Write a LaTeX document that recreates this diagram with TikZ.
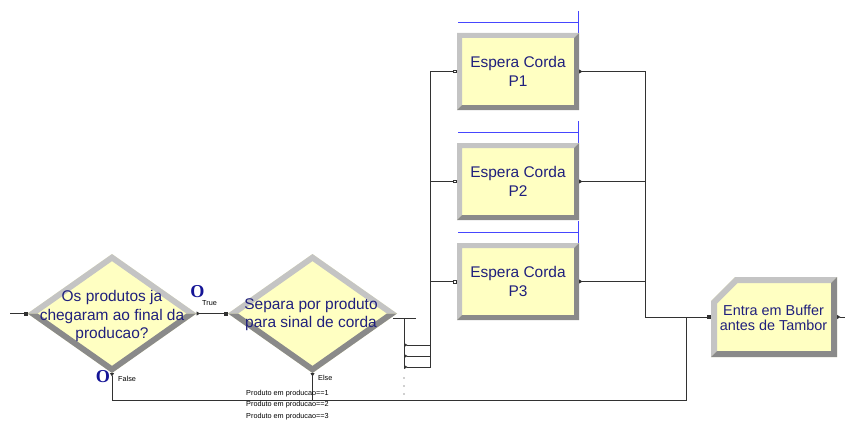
\documentclass[tikz,border=0pt]{standalone}
\usepackage{fontspec}
\setmainfont{Liberation Sans}
\newfontfamily\oserif{Liberation Serif}
\usetikzlibrary{calc, arrows.meta, shapes.geometric}

\definecolor{modfill}{RGB}{255,255,194}
\definecolor{bevlight}{RGB}{196,196,196}
\definecolor{bevdark}{RGB}{138,138,138}
\definecolor{modtext}{RGB}{32,32,125}
\definecolor{qblue}{RGB}{70,70,255}
\definecolor{oblue}{RGB}{20,20,150}
\definecolor{wirec}{RGB}{50,50,50}

\tikzset{
  dec/.style={diamond, fill=modfill, minimum width=5.07cm, minimum height=3.57cm, inner sep=0pt, outer sep=0pt},
  hold/.style={rectangle, fill=modfill, minimum width=3.66cm, minimum height=2.31cm, inner sep=0pt, outer sep=0pt},
  modlabel/.style={text=modtext, align=center, inner sep=0pt, font=\fontsize{13.2}{15.8}\selectfont},
  tiny/.style={font=\fontsize{6.2}{7}\selectfont, inner sep=0pt},
  bigO/.style={text=oblue, inner sep=0pt, font=\oserif\bfseries\fontsize{15.5}{15.5}\selectfont},
  wire/.style={draw=wirec, line width=0.65pt},
  link/.style={wire, {Triangle[reversed,length=3pt,width=3.4pt]}-{Square[length=3pt,width=3pt]}},
  linkin/.style={wire, {Triangle[reversed,length=3pt,width=3.4pt]}-{Square[length=3pt,width=3pt,fill=white]}},
  queue/.style={draw=qblue, line width=0.6pt}
}

\begin{document}
\begin{tikzpicture}[x=0.03cm, y=-0.03cm]
  \useasboundingbox (0,0) rectangle (845,421);

  % decide modules: empty diamonds, bevel, then the text on top (text runs past the edges)
  \node[dec] (d1) at (112,313.5) {};
  \node[dec] (d2) at (312.5,313.5) {};
  \foreach \d in {d1,d2}{
    \fill[bevlight] (\d.west) -- (\d.north) -- (\d.east) -- ($(\d.center)!0.88!(\d.east)$) -- ($(\d.center)!0.88!(\d.north)$) -- ($(\d.center)!0.88!(\d.west)$) -- cycle;
    \fill[bevdark] (\d.west) -- (\d.south) -- (\d.east) -- ($(\d.center)!0.88!(\d.east)$) -- ($(\d.center)!0.88!(\d.south)$) -- ($(\d.center)!0.88!(\d.west)$) -- cycle;
  }
  \node[modlabel] (d1t) at (112,316) {Os produtos ja\\chegaram ao final da\\producao?};
  \node[modlabel] (d2t) at (311,314.5) {Separa por produto\\para sinal de corda};

  % hold modules
  \node[hold, modlabel] (p1) at (518,71.5) {Espera Corda\\P1};
  \node[hold, modlabel] (p2) at (518,181.5) {Espera Corda\\P2};
  \node[hold, modlabel] (p3) at (518,281.5) {Espera Corda\\P3};
  \foreach \p in {p1,p2,p3}{
    \fill[bevlight] (\p.south west) -- (\p.north west) -- (\p.north east) -- ++(-5,5) -| ($(\p.south west)+(5,-5)$) -- cycle;
    \fill[bevdark] (\p.south west) -- (\p.south east) -- (\p.north east) -- ++(-5,5) |- ($(\p.south west)+(5,-5)$) -- cycle;
    \draw[queue] ($(\p.north west)+(1,-11)$) -- ($(\p.north east)+(-1,-11)$);
    \draw[queue] ($(\p.north east)+(-1,-22)$) -- ($(\p.north east)+(-1,0)$);
  }

  % buffer module, top left corner cut off
  \node[minimum width=3.78cm, minimum height=2.4cm, inner sep=0pt, outer sep=0pt] (buf) at (774,317) {};
  \fill[modfill] ($(buf.north west)+(24,0)$) -- (buf.north east) -- (buf.south east) -- (buf.south west) -- ($(buf.north west)+(0,24)$) -- cycle;
  \fill[bevlight] ($(buf.north west)+(0,24)$) -- ($(buf.north west)+(24,0)$) -- (buf.north east) -- ++(-6,6) -- ($(buf.north west)+(26.5,6)$) -- ($(buf.north west)+(6,26.5)$) -- ($(buf.south west)+(6,-6)$) -- (buf.south west) -- cycle;
  \fill[bevdark] (buf.north east) -- (buf.south east) -- (buf.south west) -- ++(6,-6) -- ($(buf.south east)+(-6,-6)$) -- ($(buf.north east)+(-6,6)$) -- cycle;
  \node[modlabel, font=\fontsize{12.3}{12.8}\selectfont] (buft) at (773.5,317.5) {Entra em Buffer\\antes de Tambor};

  % connectors
  \coordinate (in) at (10,313.5);
  \coordinate (out) at (845,317);
  \coordinate (fl) at (686,400);
  \coordinate (trunk) at (430,0);
  \coordinate (mg) at (645,0);
  \coordinate (xb) at (404,318);
  \coordinate (e1) at (404,345);
  \coordinate (e2) at (404,356);
  \coordinate (e3) at (404,367);

  \draw[wire, -{Square[length=3pt,width=3pt]}] (in) -- (d1.west);
  \draw[link] (d1.east) -- (d2.west);
  \draw[link] (d1.south) |- (fl) |- (buf.west);
  \draw[wire, {Triangle[reversed,length=3pt,width=3.4pt]}-] (d2.south) -- (d2.south |- fl);
  \draw[wire] ($(xb)+(-11,0)$) -- ($(xb)+(12,0)$);
  \draw[wire] (xb) -- (e3);
  \foreach \i in {1,2,3}
    \draw[linkin] (e\i) -| (p\i.west -| trunk) -- (p\i.west);
  \foreach \i in {1,2,3}
    \draw[link] (p\i.east) -| (buf.west -| mg) -- (buf.west);
  \draw[wire, {Triangle[reversed,length=3pt,width=3.4pt]}-] (buf.east) -- (out);
  \foreach \y in {378,386,394}
    \fill[wirec] (404,\y) circle (0.6pt);

  % labels
  \node[bigO] (o1) at (197.5,292) {O};
  \node[tiny, anchor=west] (tr) at (202,303) {True};
  \node[bigO] (o2) at (103,377) {O};
  \node[tiny, anchor=west] (fa) at (118,379) {False};
  \node[tiny, anchor=west] (el) at (318,377.5) {Else};
  \node[tiny, anchor=west] (c1) at (246,393.5) {Produto em producao==1};
  \node[tiny, anchor=west] (c2) at (246,405) {Produto em producao==2};
  \node[tiny, anchor=west] (c3) at (246,416.5) {Produto em producao==3};
\end{tikzpicture}
\end{document}
